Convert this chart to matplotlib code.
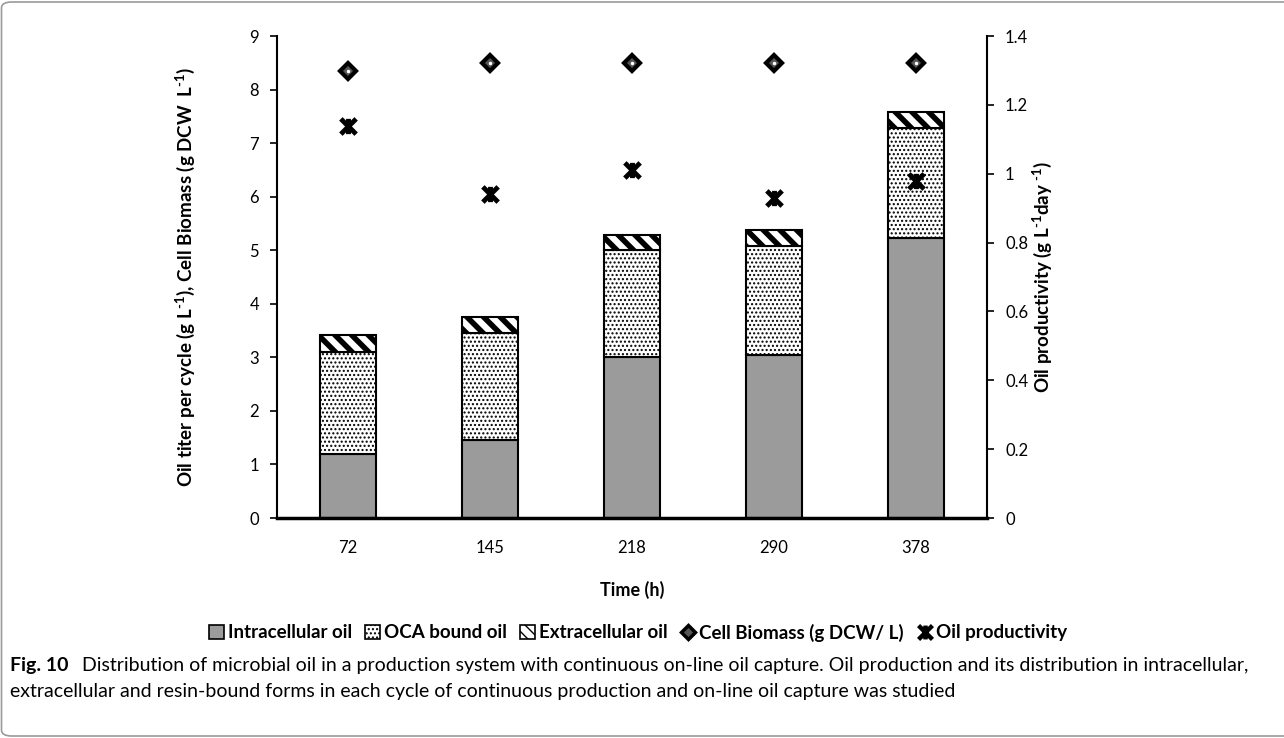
import matplotlib
matplotlib.use('Agg')
import matplotlib as mpl
import matplotlib.pyplot as plt
from matplotlib import font_manager
from matplotlib.patches import Patch, FancyBboxPatch
from matplotlib.lines import Line2D
from matplotlib.path import Path

# data
times = ['72', '145', '218', '290', '378']
intracellular = [1.20, 1.45, 3.00, 3.05, 5.23]
oca_bound = [1.90, 2.00, 2.00, 2.02, 2.06]
extracellular = [0.32, 0.30, 0.28, 0.31, 0.29]
biomass = [8.35, 8.50, 8.50, 8.50, 8.50]
productivity = [1.14, 0.94, 1.01, 0.93, 0.98]

installed = {f.name for f in font_manager.fontManager.ttflist}
chart_font = 'Lato' if 'Lato' in installed else 'DejaVu Sans'
cap_font = 'Liberation Sans Narrow' if 'Liberation Sans Narrow' in installed else chart_font

plt.rcParams['font.family'] = [chart_font, 'DejaVu Sans']
plt.rcParams['mathtext.fontset'] = 'custom'
plt.rcParams['mathtext.rm'] = chart_font + ':bold'
plt.rcParams['mathtext.default'] = 'rm'

fig = plt.figure(figsize=(12.84, 7.38), dpi=100)
ax = fig.add_axes([0.2157, 0.2981, 0.5530, 0.6531])
ax2 = ax.twinx()

x = list(range(len(times)))
w = 0.4
gray = '#9b9b9b'

ax.bar(x, intracellular, w, color=gray, edgecolor='black', linewidth=1.5, zorder=2)
with mpl.rc_context({'hatch.linewidth': 1.0}):
    ax.bar(x, oca_bound, w, bottom=intracellular, color='white', edgecolor='black',
           hatch='....', linewidth=1.5, zorder=2)
base2 = [a + b for a, b in zip(intracellular, oca_bound)]
with mpl.rc_context({'hatch.linewidth': 4.0}):
    ax.bar(x, extracellular, w, bottom=base2, color='white', edgecolor='black',
           hatch='\\\\', linewidth=1.5, zorder=2)

# excel-like star marker: X plus short vertical bar
star = Path([(-0.5, -0.5), (0.5, 0.5), (-0.5, 0.5), (0.5, -0.5), (0, -0.5), (0, 0.5)],
            [Path.MOVETO, Path.LINETO, Path.MOVETO, Path.LINETO, Path.MOVETO, Path.LINETO])

ax.plot(x, biomass, linestyle='none', marker='D', markersize=8.5, markerfacecolor='#555555',
        markeredgecolor='black', markeredgewidth=3, zorder=4)
ax.plot(x, biomass, linestyle='none', marker='o', markersize=1.5, markerfacecolor='white',
        markeredgecolor='white', zorder=5)
ax2.plot(x, productivity, linestyle='none', marker=star, markersize=11,
         markerfacecolor='none', markeredgecolor='black', markeredgewidth=3.5, zorder=4)

ax.set_xlim(-0.5, 4.5)
ax.set_ylim(0, 9)
ax2.set_ylim(0, 1.4)
ax.set_yticks(range(10))
ax2.set_yticks([0, 0.2, 0.4, 0.6, 0.8, 1, 1.2, 1.4])
ax2.set_yticklabels(['0', '0.2', '0.4', '0.6', '0.8', '1', '1.2', '1.4'])
ax.set_xticks(x)
ax.set_xticklabels(times)

for a in (ax, ax2):
    a.spines['top'].set_visible(False)
    a.tick_params(labelsize=12, length=5, width=1.2, color='black')
ax.spines['left'].set_linewidth(1.5)
ax2.spines['right'].set_linewidth(1.5)
ax.spines['bottom'].set_linewidth(2.5)
ax2.spines['bottom'].set_visible(False)
ax2.spines['left'].set_visible(False)
ax.spines['right'].set_visible(False)
ax.tick_params(axis='x', length=0, pad=16)
ax.tick_params(axis='y', pad=8)
ax2.tick_params(axis='y', pad=8)

hy = '\u2010'
ax.set_xlabel('Time (h)', fontsize=13, fontweight='bold', labelpad=18)
ax.set_ylabel('Oil titer per cycle (g L$^{' + hy + '1}$), Cell Biomass (g DCW  L$^{' + hy + '1}$)',
              fontsize=13.5, fontweight='bold', labelpad=38)
ax2.set_ylabel('Oil productivity (g L$^{' + hy + '1}$day $^{' + hy + '1}$)', fontsize=13.5,
               fontweight='bold', labelpad=2, rotation=90)

handles = [
    Patch(facecolor=gray, edgecolor='black', linewidth=1.2),
    Patch(facecolor='white', edgecolor='black', hatch='....', linewidth=1.2),
    Patch(facecolor='white', edgecolor='black', hatch='\\\\\\', linewidth=1.2),
    Line2D([], [], linestyle='none', marker='D', markersize=7, markerfacecolor='#555555',
           markeredgecolor='black', markeredgewidth=2.5),
    Line2D([], [], linestyle='none', marker=star, markersize=10, markerfacecolor='none',
           markeredgecolor='black', markeredgewidth=3.2),
]
labels = ['Intracellular oil', 'OCA bound oil', 'Extracellular oil',
          'Cell Biomass (g DCW/ L)', 'Oil productivity']
fig.legend(handles, labels, loc='center', bbox_to_anchor=(0.497, 0.143), ncol=5,
           frameon=False, handlelength=0.8, handleheight=0.8, handletextpad=0.2,
           columnspacing=0.7, prop={'family': cap_font, 'weight': 'bold', 'size': 13.5})

# caption
cap_size = 14
fig.text(10 / 1284, 1 - 666 / 738, 'Fig. 10', family=cap_font, fontweight='bold',
         fontsize=cap_size, va='center', ha='left')
fig.text(82 / 1284, 1 - 666 / 738,
         'Distribution of microbial oil in a production system with continuous on-line oil '
         'capture. Oil production and its distribution in intracellular,',
         family=cap_font, fontsize=cap_size, va='center', ha='left')
fig.text(10 / 1284, 1 - 692 / 738,
         'extracellular and resin-bound forms in each cycle of continuous production and '
         'on-line oil capture was studied',
         family=cap_font, fontsize=cap_size, va='center', ha='left')

border = FancyBboxPatch((1.5 / 1284, 2 / 738), 1.05, 1 - 4 / 738,
                        boxstyle='round,pad=0,rounding_size=0.008',
                        transform=fig.transFigure, facecolor='none', edgecolor='#9a9a9a',
                        linewidth=1.2)
fig.patches.append(border)

fig.savefig('out.png', dpi=100)
